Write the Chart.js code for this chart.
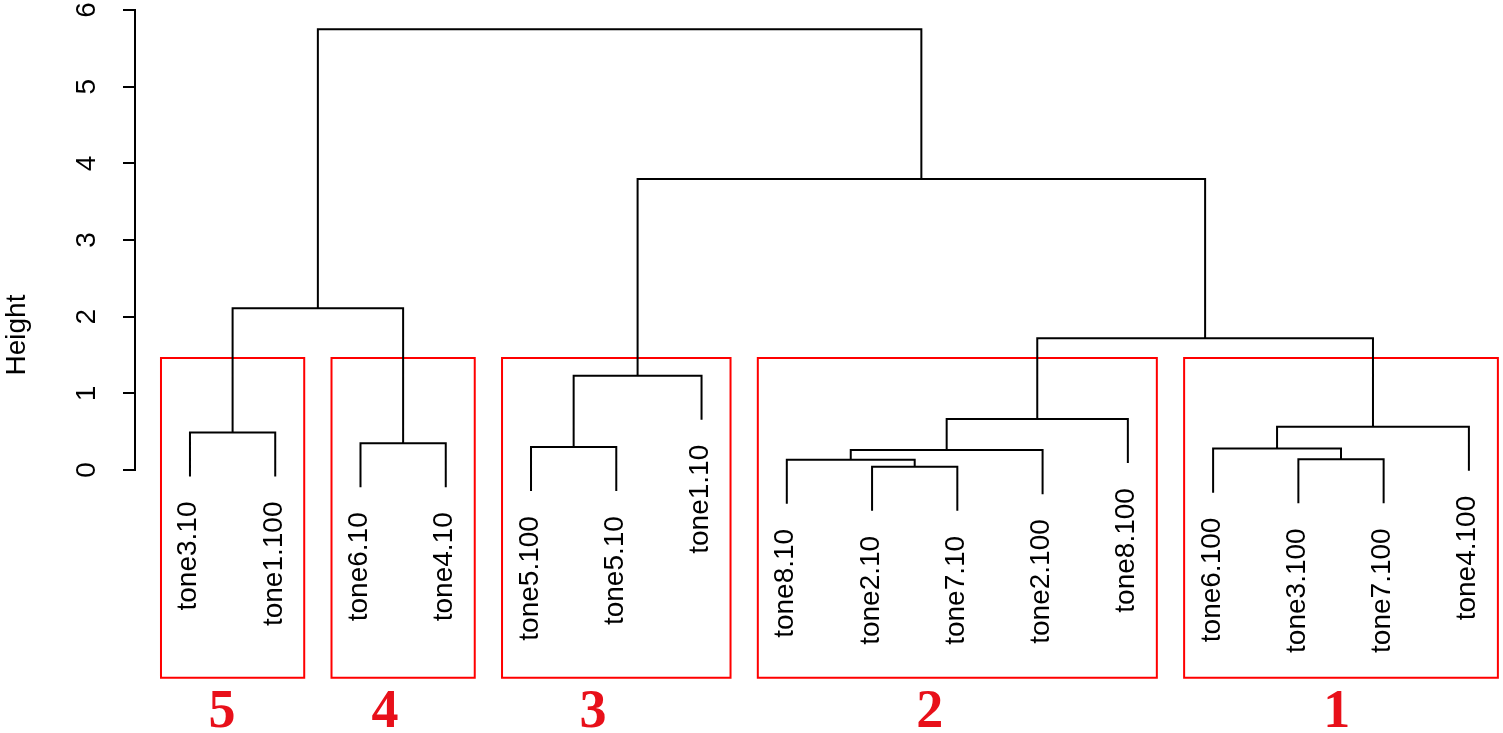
<!DOCTYPE html>
<html><head><meta charset="utf-8">
<script src="https://cdn.jsdelivr.net/npm/chart.js@4"></script>
<style>html,body{margin:0;padding:0;background:#fff}canvas{display:block}</style>
</head><body>
<canvas id="c" width="1503" height="733"></canvas>
<script>
// Leaves in plotted (dendrogram) order
const leafLabels = ["tone3.10","tone1.100","tone6.10","tone4.10","tone5.100","tone5.10","tone1.10",
  "tone8.10","tone2.10","tone7.10","tone2.100","tone8.100","tone6.100","tone3.100","tone7.100","tone4.100"];
// Merge steps (negative = leaf position 1-based, positive = earlier merge step)
const mergeLeft   = [-1, -3, 1, -5, 4, -9, -8, 7, 8, -14, -13, 11, 9, 5, 3];
const mergeRight  = [-2, -4, 2, -6, -7, -10, 6, -11, -12, -15, 10, -16, 12, 13, 14];
const mergeHeights = [0.49, 0.35, 2.11, 0.30, 1.23, 0.043, 0.134, 0.26, 0.665, 0.14, 0.28, 0.565, 1.72, 3.795, 5.75];
const yTickValues = [0, 1, 2, 3, 4, 5, 6];
const yAxisTitle = "Height";
// Cluster boxes
const clusterNames = ["5", "4", "3", "2", "1"];
const clusterFirstLeaf = [1, 3, 5, 8, 13];
const clusterLastLeaf = [2, 4, 7, 12, 16];
const clusterCutHeight = 1.46;
const clusterBoxBottom = -2.71;
const clusterLabelPos = [1.375, 3.287, 5.726, 9.678, 14.45];

const hang = 0.1 * Math.max(...mergeHeights);
const nodeX = [];
const leafEnd = new Array(leafLabels.length + 1);
const segs = [];
function cx(id) { return id < 0 ? -id : nodeX[id - 1]; }
function cy(id, h) {
  if (id < 0) { leafEnd[-id] = h - hang; return h - hang; }
  return mergeHeights[id - 1];
}
mergeHeights.forEach((h, i) => {
  const l = mergeLeft[i], r = mergeRight[i];
  const xl = cx(l), xr = cx(r);
  nodeX.push((xl + xr) / 2);
  segs.push({x: xl, y: cy(l, h)}, {x: xl, y: h}, {x: xr, y: h}, {x: xr, y: cy(r, h)}, {x: null, y: null});
});
const boxPad = 0.34;
const boxes = [];
clusterNames.forEach((n, i) => {
  const x0 = clusterFirstLeaf[i] - boxPad, x1 = clusterLastLeaf[i] + boxPad;
  boxes.push({x: x0, y: clusterCutHeight}, {x: x1, y: clusterCutHeight}, {x: x1, y: clusterBoxBottom},
    {x: x0, y: clusterBoxBottom}, {x: x0, y: clusterCutHeight}, {x: null, y: null});
});

const textPlugin = {
  id: 'textPlugin',
  afterDraw(chart) {
    const ctx = chart.ctx, xs = chart.scales.x, ys = chart.scales.y;
    const left = chart.chartArea.left;
    ctx.save();
    ctx.strokeStyle = '#000'; ctx.lineWidth = 2;
    ctx.beginPath();
    ctx.moveTo(left - 1, ys.getPixelForValue(yTickValues[0]));
    ctx.lineTo(left - 1, ys.getPixelForValue(yTickValues[yTickValues.length - 1]));
    ctx.stroke();
    ctx.fillStyle = '#000';
    ctx.font = '28px "Liberation Sans", Arial, sans-serif';
    ctx.textBaseline = 'alphabetic';
    yTickValues.forEach(v => {
      ctx.save();
      ctx.translate(95, ys.getPixelForValue(v));
      ctx.rotate(-Math.PI / 2);
      ctx.textAlign = 'center';
      ctx.fillText(String(v), 0, 0);
      ctx.restore();
    });
    ctx.save();
    ctx.translate(25, 335);
    ctx.rotate(-Math.PI / 2);
    ctx.textAlign = 'center';
    ctx.fillText(yAxisTitle, 0, 0);
    ctx.restore();
    leafLabels.forEach((lab, i) => {
      const px = xs.getPixelForValue(i + 1);
      const py = ys.getPixelForValue(leafEnd[i + 1]) + 25;
      ctx.save();
      ctx.translate(px + 6.5, py);
      ctx.rotate(-Math.PI / 2);
      ctx.textAlign = 'right';
      ctx.fillText(lab, 0, 0);
      ctx.restore();
    });
    ctx.fillStyle = '#e8101a';
    ctx.font = 'bold 54px "Liberation Serif", "Times New Roman", serif';
    ctx.textAlign = 'center';
    clusterNames.forEach((n, i) => {
      ctx.fillText(n, xs.getPixelForValue(clusterLabelPos[i]), 727);
    });
    ctx.restore();
  }
};

new Chart(document.getElementById('c'), {
  type: 'scatter',
  data: {
    datasets: [
      {data: segs, showLine: true, borderColor: '#000', borderWidth: 2, pointRadius: 0, spanGaps: false,
       tension: 0, borderJoinStyle: 'miter', borderCapStyle: 'butt'},
      {data: boxes, showLine: true, borderColor: '#ff0000', borderWidth: 2, pointRadius: 0, spanGaps: false,
       tension: 0, borderJoinStyle: 'miter', borderCapStyle: 'square'}
    ]
  },
  options: {
    responsive: false, animation: false, events: [],
    layout: {padding: {top: 10, left: 0, right: 0, bottom: 0}},
    plugins: {legend: {display: false}, tooltip: {enabled: false}},
    scales: {
      x: {type: 'linear', min: 0.367, max: 16.4, display: false},
      y: {
        type: 'linear', min: -3.43, max: 6,
        afterFit(s) { s.width = 136; },
        afterBuildTicks(s) { s.ticks = yTickValues.map(v => ({value: v})); },
        grid: {drawOnChartArea: false, drawTicks: true, tickLength: 13, color: '#000', lineWidth: 2},
        border: {display: false},
        ticks: {display: false}
      }
    }
  },
  plugins: [textPlugin]
});
</script>
</body></html>
